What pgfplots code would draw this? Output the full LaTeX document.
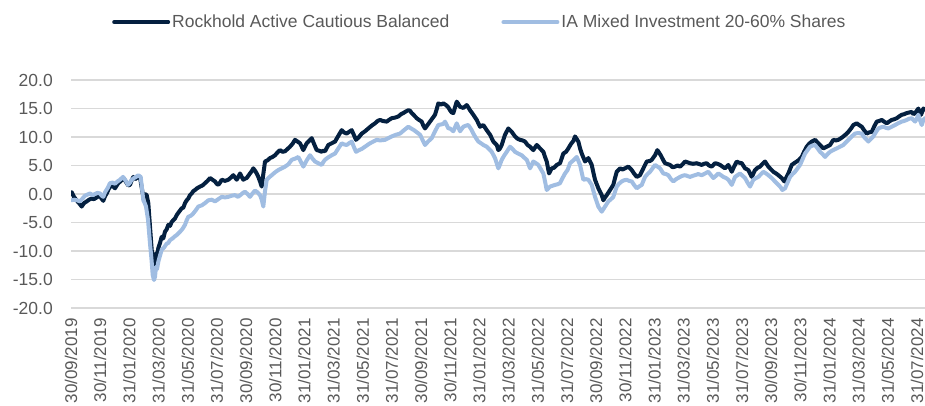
\documentclass[border=0pt]{standalone}
\usepackage{fontspec}
\setmainfont{Liberation Sans}
\usepackage{pgfplots}
\usepackage{pgfplotstable}
\pgfplotsset{compat=1.18}
\definecolor{navy}{RGB}{4,32,64}
\definecolor{lightblue}{RGB}{160,189,226}
\definecolor{gridgrey}{RGB}{217,217,217}
\definecolor{txtgrey}{RGB}{89,89,89}

% px = horizontal position on the date axis (71 = 30/09/2019, 14.585 per month)
\pgfplotstableread{
px val
71.7 0.3
74 -0.5
77 -1.2
80 -1.8
81.7 -2.2
84 -1.6
86.7 -1.3
89 -1.0
91.7 -0.8
94 -0.9
96.7 -0.6
100 -0.3
101.5 -0.8
103.3 -1.2
105 -0.4
106.7 0.1
108.5 0.8
110 1.3
112.5 1.4
115 1.0
116.7 1.5
118.3 1.9
121 2.3
123.3 2.8
125 2.4
126.7 1.9
128.3 1.5
130 1.6
131.7 2.4
133.3 3.0
135 2.6
136.7 2.8
138.3 2.9
140 3.0
141.3 1.5
142.7 0.1
144 -0.2
145 0.0
146.7 -0.2
148.3 -1.6
150 -5.7
151.7 -9.8
153.3 -12.1
154.5 -12.6
156 -10.4
157 -11.0
158.3 -9.5
160 -8.6
161.7 -7.5
163.3 -7.8
165 -6.6
166.7 -6.2
168.3 -5.4
170 -5.6
171.7 -4.9
173.3 -4.6
175 -4.3
176.7 -3.7
178.3 -3.3
180 -2.9
181.7 -2.5
183.3 -2.4
185 -1.6
186.7 -1.1
188.3 -0.8
190 -0.2
191.7 0.1
193.3 0.5
195 0.7
197 1.0
200 1.3
202.5 1.5
205 1.9
207.5 2.3
210 2.8
212.5 2.5
215 2.2
216.7 1.8
218.3 1.6
220 2.0
221.7 2.5
225 2.3
228.3 2.5
231 2.9
233.3 3.3
235 2.9
236.7 2.5
238.3 3.0
240 3.6
241.7 3.0
243.3 2.5
245 2.7
246.7 2.8
248.3 3.2
250 3.6
251.7 4.0
253.3 4.5
255 4.1
256.7 3.6
258.3 3.0
260 2.2
261.7 1.3
263.3 3.5
265 5.7
267.5 5.9
270 6.3
272.5 6.5
275 6.8
277.5 7.3
280 7.7
282.5 7.4
285 7.5
287.5 7.9
290 8.3
292.5 8.8
295 9.5
297.5 9.2
300 8.9
301.7 8.3
303.3 7.7
305 8.3
306.7 8.9
309 9.3
311.7 9.8
314 8.8
316.7 7.7
319 7.6
321.7 7.4
323 7.6
325 7.5
328.3 8.6
331.7 8.9
335 9.2
338.3 10.2
341.7 11.2
344 10.8
346.7 10.6
349 10.9
351.7 11.2
354 10.3
356 9.5
359 10.0
361.7 10.6
365 11.0
368.3 11.5
371.7 12.0
375 12.4
377.5 12.8
380 13.0
383 12.8
386.7 12.7
389 13.0
391.7 13.3
395 13.4
398.3 13.6
401 14.0
403.3 14.2
406 14.5
408.3 14.7
410 14.6
411.7 14.2
414 13.8
416.7 13.3
419 13.0
421.7 12.7
423.3 12.0
425 11.5
427.5 12.1
430 12.7
432.5 13.3
435 13.9
436.7 14.9
438.3 15.9
441 15.7
443.3 15.9
446 15.6
448.3 15.2
450 14.7
451.7 14.3
453.3 14.2
455 15.2
456.7 16.2
458.3 15.8
460 15.3
463.3 15.1
466.7 15.6
468.3 15.2
470 14.7
473.3 13.9
476.7 13.0
480 11.8
483.3 12.1
486.7 11.2
490 10.4
493.3 9.2
496.7 8.6
498.3 7.7
500 8.0
501.7 8.6
503.3 9.5
505 10.4
508.3 11.5
511.7 10.9
515 10.1
517.5 9.7
520 9.5
522.5 9.4
525 9.2
527.5 8.6
530 8.3
533.3 7.7
536.7 8.6
540 8.0
543.3 7.4
545 6.5
546.7 5.7
549 3.6
551.7 4.5
554 4.6
556.7 5.1
560 5.4
563.3 7.1
566 7.4
568.3 8.0
571 8.8
573.3 9.3
575 10.1
578.3 9.2
580 8.0
581.7 7.1
585 5.7
588.3 6.3
591.7 5.1
593.3 3.8
595 2.5
598.3 1.0
601.7 -0.2
603.3 -1.1
605 -0.6
606.7 -0.2
610 0.7
613.3 1.6
615 2.8
616.7 3.9
620 4.5
622.5 4.3
625 4.5
628.3 4.8
631.7 4.2
634 3.6
636.7 3.0
640 3.3
643.3 4.5
646.7 5.7
650 5.8
651.7 6.0
655 6.8
657.3 7.7
660.7 6.8
663 6.0
665 5.4
670 5.1
672.5 4.7
675 4.8
677.5 5.0
680 4.8
682.5 5.2
685 5.7
690 5.4
693 5.3
696.7 5.4
700 5.2
701.7 5.1
704 5.3
706.7 5.4
709 5.0
711.7 4.8
715 5.4
717.5 5.3
720 5.1
722.5 4.8
725 4.5
728.3 5.1
731.7 3.9
734 4.8
736.7 5.7
739 5.5
741.7 5.4
745 4.5
748.3 4.2
751.7 3.0
755 4.2
757.5 4.6
760 4.8
762.5 5.3
765 5.7
768.3 4.8
773.3 3.9
776 3.6
778.3 3.3
781.7 2.8
784.3 2.2
786 2.8
788.3 3.6
791.7 5.1
794 5.4
796.7 5.7
799 6.0
801.7 6.5
804 7.4
806.7 8.3
809 8.8
811.7 9.2
815 9.5
818.3 8.9
821 8.4
823.3 8.0
826.7 8.3
830 8.6
833.3 9.5
836 9.4
838.3 9.5
841 9.8
843.3 10.1
846 10.5
848.3 10.9
851 11.5
853.3 12.1
856.7 12.4
859 12.1
861.7 11.8
864 11.2
866.7 10.6
869 10.8
871.7 10.9
874 11.8
876.7 12.7
879 12.8
881.7 13.0
884 12.7
886.7 12.4
889 12.7
891.7 13.0
894 13.1
896.7 13.3
899 13.6
901.7 13.9
904 14.0
906.7 14.2
909 14.3
911.7 14.4
913.3 14.0
915 14.2
916.7 14.6
918.3 15.0
919.5 14.4
921 13.9
922.3 14.5
923.3 15.0
925 14.8
}\rockhold

\pgfplotstableread{
px val
71.7 -1.1
74 -1.0
77 -1.1
80 -1.3
82.5 -0.8
85 -0.3
87.5 -0.1
90 0.1
92.5 -0.2
95 0.0
97.5 0.2
100 0.1
101.7 -0.3
103.3 -0.5
105 0.3
107.5 1.0
110 1.9
112.5 2.0
115 1.8
117.5 2.2
120 2.5
123 3.0
125.5 2.4
128 1.6
130 2.0
131.7 2.5
134 2.8
136 3.0
138.3 3.3
140.7 3.0
142 1.0
143.3 -1.1
144.5 -1.5
146 -2.2
148 -4.5
150 -8.7
151.5 -11.5
152.7 -14.2
154 -15.1
155 -14.5
156 -12.8
157 -13.2
158.3 -11.9
160 -10.8
161.7 -9.8
164 -9.4
166.7 -8.7
168.3 -8.6
170 -8.1
172.5 -7.8
175 -7.4
176.7 -7.2
179 -6.8
181.7 -6.3
183.3 -5.9
185 -5.4
186.7 -4.6
188.3 -4.0
191 -3.8
193.3 -3.4
196 -2.8
198.3 -2.2
201.7 -2.0
205 -1.6
208.3 -1.1
211.7 -1.0
215 -1.3
218.3 -0.9
221.7 -0.5
225 -0.6
228.3 -0.5
231.7 -0.3
235 -0.2
238 -0.5
241 -0.1
243 0.2
245 0.4
247.5 0.0
250 -0.5
252.5 0.1
255 0.6
257.5 0.3
260 -0.2
261.7 -1.0
263.3 -2.2
265 0.5
266.7 2.5
269 2.9
271.7 3.3
275 3.8
278.3 4.2
281.7 4.5
285 4.8
288.3 5.2
291.7 6.0
295 6.2
298.3 6.5
301 5.6
303.3 4.8
306.7 5.9
310 6.8
312.5 6.2
315 5.7
318.3 5.4
321.7 5.1
323.3 5.6
325 6.0
328 6.4
331.7 6.8
335 7.1
338.3 8.0
341.7 8.9
344 8.7
346.7 8.6
349 8.9
351.7 9.2
354 8.2
356 7.4
359 7.7
361.7 7.9
365 8.3
368.3 8.7
370 8.9
373.3 9.2
376.7 9.5
380 9.4
385 9.5
388.3 9.8
391.7 10.1
396 10.4
400 10.6
404 11.2
408.3 11.8
411 11.5
414 11.2
417 10.8
420 10.4
422.5 9.5
425 8.6
428 9.2
431.7 9.8
435 11.0
438.3 12.1
441 12.2
443.3 12.3
445 12.7
448.3 11.5
450 11.5
453.3 11.0
455 11.7
456.7 12.4
458.3 11.7
460 11.0
463.3 11.8
466 12.0
468.3 12.1
471 11.4
473.3 10.6
476 9.8
478.3 9.2
481 8.9
483.3 8.6
486.7 8.3
489 7.9
491.7 7.4
495 6.3
498.3 4.5
500 5.2
501.7 6.0
504 6.7
506.7 7.4
510 8.3
512.5 7.9
515 7.4
518 7.1
521.7 6.8
524 6.4
526.7 6.0
528.3 5.3
530 4.5
533.3 5.7
536 5.4
538.3 5.1
541 4.3
543.3 3.6
545 2.2
546.7 0.7
550 1.3
555 1.6
557.5 1.7
560 1.9
562.5 2.8
565 3.6
567.5 4.2
570 5.4
573.3 5.9
576.7 6.5
580 5.1
583.3 2.5
586 2.6
588.3 2.5
591.7 1.6
595 -0.5
598.3 -2.2
601.7 -3.1
605 -2.2
608.3 -1.3
611 -0.9
613.3 -0.5
616.7 1.3
619 1.8
621.7 2.2
624 2.4
626.7 2.5
629 2.3
631.7 2.2
634 1.6
636.7 1.0
639 1.3
641.7 1.6
645 3.0
647.5 3.5
650 3.9
652.5 4.5
655 5.1
657.5 4.8
660 4.5
663.3 3.6
666 3.5
668.3 3.3
671 2.6
673.3 2.2
676 2.6
680 3.0
682.5 3.2
685 3.3
690 3.0
693 3.2
696.7 3.4
698 3.5
701.7 3.3
705 3.6
708.3 3.9
711 3.3
713.3 2.8
716 3.2
718.3 3.6
721 3.3
723.3 3.0
726 2.8
728.3 2.5
731.7 1.6
735 3.0
737.5 3.3
740 3.6
742.5 3.2
745 2.8
747.5 2.0
750 1.3
753.3 2.5
756 2.8
758.3 3.0
761 3.5
763.3 3.9
766 3.6
768.3 3.3
771 2.9
773.3 2.5
776 2.0
778.3 1.6
780.5 1.2
782.3 0.7
785 1.0
787.5 2.0
790 3.0
792.5 3.5
795 3.9
797.5 4.5
800 5.1
802.5 6.1
805 7.1
807.5 7.7
810 8.3
812.5 8.5
815 8.6
817.5 8.0
820 7.4
822.5 7.0
825 6.5
827.5 7.0
830 7.4
833 7.7
836.7 8.0
840 8.3
843.3 8.6
846 9.1
848.3 9.5
851.7 10.1
855 10.6
858 10.7
861.7 10.6
864 10.0
868.3 9.2
870.5 9.6
873.3 10.1
876 10.9
878.3 11.5
881 11.7
883.3 11.8
886 11.6
888.3 11.5
891.7 11.8
895 12.1
898 12.4
901.7 12.7
904 12.8
906.7 13.0
909 13.2
911.7 13.3
913.3 13.0
915 12.7
916.7 13.2
918.3 13.9
920 12.9
921.7 12.1
923.3 13.0
925 13.3
}\sector

\begin{document}
\begin{tikzpicture}
\path[use as bounding box] (0,0) rectangle (925pt,406pt);
\begin{axis}[
  at={(71pt,98pt)}, anchor=south west,
  scale only axis, width=854pt, height=228pt,
  xmin=0, xmax=58.55, ymin=-20, ymax=20,
  axis line style={draw=none},
  tick style={draw=none},
  major tick length=0pt,
  ytick={-20,-15,...,20},
  yticklabels={-20.0,-15.0,-10.0,-5.0,0.0,5.0,10.0,15.0,20.0},
  xtick={0,2,...,58},
  xticklabels={30/09/2019,30/11/2019,31/01/2020,31/03/2020,31/05/2020,31/07/2020,30/09/2020,30/11/2020,31/01/2021,31/03/2021,31/05/2021,31/07/2021,30/09/2021,30/11/2021,31/01/2022,31/03/2022,31/05/2022,31/07/2022,30/09/2022,30/11/2022,31/01/2023,31/03/2023,31/05/2023,31/07/2023,30/09/2023,30/11/2023,31/01/2024,31/03/2024,31/05/2024,31/07/2024},
  ymajorgrids,
  grid style={gridgrey, line width=1.5pt},
  yticklabel style={font=\fontsize{17.5}{20}\selectfont, text=txtgrey, anchor=east, inner sep=0pt},
  yticklabel shift=18pt,
  xticklabel style={font=\fontsize{17}{20}\selectfont, text=txtgrey, rotate=90, anchor=east, inner sep=0pt},
  xticklabel shift=10pt,
  legend columns=2,
  legend style={at={(0.048,1.254)}, anchor=west, draw=none, fill=none, inner sep=0pt,
    font=\fontsize{17.5}{20}\selectfont, text=txtgrey,
    /tikz/every even column/.append style={column sep=50pt}},
  legend image code/.code={\draw[#1] (0pt,0pt) -- (54pt,0pt);},
]
\addplot[navy, line width=4pt, line join=round, line cap=round] table[x expr=(\thisrow{px}-71)/14.585, y=val] {\rockhold};
\addlegendentry{Rockhold Active Cautious Balanced}
\addplot[lightblue, line width=4pt, line join=round, line cap=round] table[x expr=(\thisrow{px}-71)/14.585, y=val] {\sector};
\addlegendentry{IA Mixed Investment 20-60\% Shares}
\end{axis}
\end{tikzpicture}
\end{document}
